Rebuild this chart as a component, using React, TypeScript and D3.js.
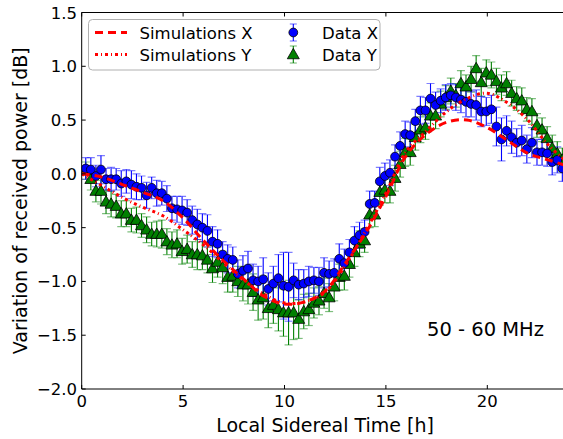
import React from "react";
import * as d3 from "d3";

const HOURS = [0.2,0.45,0.7,0.95,1.2,1.45,1.7,1.95,2.2,2.45,2.7,2.95,3.2,3.45,3.7,3.95,4.2,4.45,4.7,4.95,5.2,5.45,5.7,5.95,6.2,6.45,6.7,6.95,7.2,7.45,7.7,7.95,8.2,8.45,8.7,8.95,9.2,9.45,9.7,9.95,10.2,10.45,10.7,10.95,11.2,11.45,11.7,11.95,12.2,12.45,12.7,12.95,13.2,13.45,13.7,13.95,14.2,14.45,14.7,14.95,15.2,15.45,15.7,15.95,16.2,16.45,16.7,16.95,17.2,17.45,17.7,17.95,18.2,18.45,18.7,18.95,19.2,19.45,19.7,19.95,20.2,20.45,20.7,20.95,21.2,21.45,21.7,21.95,22.2,22.45,22.7,22.95,23.2,23.45,23.7];

const DATA_X = [0.05,0.04,-0.02,0.04,-0.05,-0.05,-0.05,-0.09,-0.07,-0.10,
-0.12,-0.13,-0.20,-0.13,-0.18,-0.18,-0.23,-0.32,-0.33,-0.34,
-0.36,-0.43,-0.47,-0.50,-0.53,-0.63,-0.65,-0.75,-0.79,-0.80,
-0.93,-0.90,-0.88,-0.99,-1.00,-0.98,-1.07,-1.02,-0.97,-1.04,
-1.05,-0.99,-1.03,-1.02,-1.00,-0.99,-1.00,-0.92,-0.93,-0.92,
-0.79,-0.83,-0.73,-0.62,-0.57,-0.54,-0.28,-0.27,-0.07,-0.02,
0.01,0.16,0.26,0.37,0.36,0.49,0.59,0.59,0.70,0.64,
0.68,0.71,0.73,0.71,0.69,0.67,0.65,0.64,0.58,0.58,
0.60,0.44,0.32,0.40,0.34,0.29,0.31,0.23,0.29,0.20,
0.20,0.19,0.11,0.13,0.05];

const ERR_X = [0.10,0.11,0.10,0.13,0.10,0.11,0.10,0.12,0.11,0.13,
0.12,0.11,0.12,0.10,0.12,0.11,0.12,0.11,0.12,0.13,
0.12,0.13,0.14,0.13,0.15,0.14,0.13,0.12,0.13,0.12,
0.13,0.14,0.16,0.15,0.14,0.20,0.15,0.16,0.22,0.31,
0.32,0.16,0.14,0.13,0.14,0.12,0.13,0.14,0.12,0.13,
0.14,0.13,0.12,0.13,0.12,0.11,0.12,0.11,0.13,0.12,
0.12,0.11,0.13,0.12,0.12,0.11,0.13,0.12,0.14,0.12,
0.11,0.12,0.11,0.12,0.12,0.14,0.12,0.14,0.14,0.13,
0.13,0.18,0.20,0.14,0.15,0.13,0.14,0.13,0.14,0.12,
0.12,0.12,0.12,0.12,0.12];

const DATA_Y = [0.03,-0.05,-0.16,-0.16,-0.26,-0.28,-0.30,-0.37,-0.37,-0.43,
-0.43,-0.48,-0.52,-0.56,-0.56,-0.56,-0.63,-0.66,-0.65,-0.72,
-0.70,-0.75,-0.75,-0.76,-0.80,-0.88,-0.82,-0.87,-0.96,-0.95,
-1.00,-1.03,-1.03,-1.10,-1.17,-1.15,-1.25,-1.22,-1.26,-1.29,
-1.29,-1.29,-1.35,-1.28,-1.26,-1.20,-1.18,-1.11,-1.15,-1.05,
-0.96,-0.95,-0.84,-0.73,-0.65,-0.62,-0.38,-0.38,-0.17,-0.15,
-0.16,-0.04,0.09,0.20,0.20,0.34,0.41,0.43,0.54,0.54,
0.65,0.71,0.77,0.73,0.84,0.81,0.88,0.98,0.85,0.94,
0.92,0.86,0.80,0.84,0.75,0.70,0.68,0.60,0.58,0.45,
0.41,0.33,0.24,0.19,0.13];

const ERR_Y = [0.08,0.10,0.10,0.12,0.11,0.12,0.11,0.12,0.12,0.11,
0.12,0.11,0.12,0.11,0.12,0.13,0.12,0.12,0.13,0.12,
0.13,0.12,0.14,0.13,0.12,0.13,0.14,0.15,0.14,0.15,
0.14,0.15,0.18,0.17,0.19,0.20,0.18,0.17,0.20,0.22,
0.30,0.25,0.18,0.16,0.15,0.14,0.13,0.14,0.13,0.13,
0.12,0.13,0.12,0.13,0.12,0.11,0.12,0.11,0.12,0.12,
0.11,0.12,0.12,0.13,0.12,0.12,0.12,0.11,0.12,0.12,
0.12,0.11,0.12,0.11,0.12,0.11,0.12,0.12,0.13,0.12,
0.12,0.12,0.12,0.11,0.12,0.11,0.12,0.11,0.12,0.11,
0.11,0.11,0.12,0.11,0.11];

const SIM_HOURS = [0,1,2,3,4,5,6,7,8,9,10,11,12,13,14,15,16,17,18,19,20,21,22,23,24];
const SIM_X = [0.0,-0.03,-0.10,-0.17,-0.25,-0.41,-0.62,-0.81,-0.98,-1.14,-1.21,-1.19,-1.09,-0.83,-0.55,-0.21,0.17,0.37,0.48,0.50,0.43,0.31,0.19,0.13,0.07];
const SIM_Y = [0.0,-0.11,-0.22,-0.31,-0.39,-0.52,-0.66,-0.83,-0.99,-1.12,-1.20,-1.19,-1.10,-0.85,-0.53,-0.18,0.21,0.40,0.58,0.70,0.75,0.66,0.50,0.27,0.10];

const X_TICKS = [0, 5, 10, 15, 20];
const Y_TICKS = [1.5, 1.0, 0.5, 0.0, -0.5, -1.0, -1.5, -2.0];

const W = 563, H = 439;
const FONT = "'DejaVu Sans', sans-serif";
const DASH_X = "8,5";
const DASH_Y = "3,3,1,3";

export default function App() {
  const x = d3.scaleLinear().domain([0, 24]).range([81.7, 81.7 + 24 * 20.28]);
  const y = d3.scaleLinear().domain([-2, 1.5]).range([389, 12.5]);
  const left = x(0), right = x(24), top = y(1.5), bottom = y(-2);

  const mkLine = (vals: number[]) =>
    d3.line<number>().x((_, i) => x(SIM_HOURS[i])).y((v) => y(v)).curve(d3.curveCatmullRom.alpha(0.5))(vals) as string;
  const pathX = mkLine(SIM_X);
  const pathY = mkLine(SIM_Y);

  const tri = d3.symbol().type(d3.symbolTriangle).size(62)() as string;

  const errBars = (vals: number[], errs: number[], color: string) =>
    vals.map((v, i) => {
      const cx = x(HOURS[i]);
      const y1 = y(v + errs[i]), y2 = y(v - errs[i]);
      return (
        <g key={i}>
          <line x1={cx} x2={cx} y1={y1} y2={y2} stroke={color} strokeWidth={1.1} />
          <line x1={cx - 4} x2={cx + 4} y1={y1} y2={y1} stroke={color} strokeWidth={1.2} strokeOpacity={0.5} />
          <line x1={cx - 4} x2={cx + 4} y1={y2} y2={y2} stroke={color} strokeWidth={1.2} strokeOpacity={0.5} />
        </g>
      );
    });

  return (
    <svg width={W} height={H} style={{ position: "absolute", left: 0, top: 0, background: "#fff" }} fontFamily={FONT}>
      <defs>
        <clipPath id="plot">
          <rect x={left} y={top} width={right - left} height={bottom - top} />
        </clipPath>
      </defs>
      <rect x={0} y={0} width={W} height={H} fill="#fff" />
      <g clipPath="url(#plot)">
        {errBars(DATA_Y, ERR_Y, "#008000")}
        {errBars(DATA_X, ERR_X, "#0000ff")}
        {DATA_Y.map((v, i) => (
          <path key={"t" + i} d={tri} transform={`translate(${x(HOURS[i])},${y(v) + 0.8})`} fill="#008000" stroke="#000" strokeWidth={0.8} />
        ))}
        {DATA_X.map((v, i) => (
          <circle key={"c" + i} cx={x(HOURS[i])} cy={y(v)} r={4.4} fill="#0000ff" stroke="#000" strokeWidth={0.8} />
        ))}
        <path d={pathX} fill="none" stroke="#ff0000" strokeWidth={3} strokeDasharray={DASH_X} />
        <path d={pathY} fill="none" stroke="#ff0000" strokeWidth={3} strokeDasharray={DASH_Y} />
      </g>
      <line x1={left} x2={left} y1={top} y2={bottom} stroke="#000" strokeWidth={1} />
      <line x1={left} x2={right} y1={top} y2={top} stroke="#000" strokeWidth={1} />
      <line x1={left} x2={right} y1={bottom} y2={bottom} stroke="#000" strokeWidth={1} />
      <line x1={right} x2={right} y1={top} y2={bottom} stroke="#000" strokeWidth={1} />
      {X_TICKS.map((t) => (
        <g key={"xt" + t}>
          <line x1={x(t)} x2={x(t)} y1={bottom} y2={bottom - 4} stroke="#000" />
          <line x1={x(t)} x2={x(t)} y1={top} y2={top + 4} stroke="#000" />
          <text x={x(t)} y={407} fontSize={16.5} textAnchor="middle" fill="#000">{t}</text>
        </g>
      ))}
      {Y_TICKS.map((t) => (
        <g key={"yt" + t}>
          <line x1={left} x2={left + 4} y1={y(t)} y2={y(t)} stroke="#000" />
          <text x={77} y={y(t) + 6} fontSize={16.5} textAnchor="end" fill="#000">{t < 0 ? "\u2212" + Math.abs(t).toFixed(1) : t.toFixed(1)}</text>
        </g>
      ))}
      <text x={(left + right) / 2} y={432} fontSize={19} textAnchor="middle" fill="#000">Local Sidereal Time [h]</text>
      <text transform={`translate(27,${(top + bottom) / 2}) rotate(-90)`} fontSize={19} textAnchor="middle" fill="#000">Variation of received power [dB]</text>
      <text x={427} y={335.5} fontSize={19.5} fill="#000">50 - 60 MHz</text>
      <g>
        <rect x={88.5} y={19.5} width={291.5} height={50.5} rx={4} fill="#fff" stroke="#b0b0b0" strokeWidth={1} />
        <line x1={95} x2={127} y1={32.5} y2={32.5} stroke="#ff0000" strokeWidth={3} strokeDasharray={DASH_X} />
        <text x={139.5} y={38.5} fontSize={16.5} fill="#000">Simulations X</text>
        <line x1={95} x2={127} y1={54.5} y2={54.5} stroke="#ff0000" strokeWidth={3} strokeDasharray={DASH_Y} />
        <text x={139.5} y={60.5} fontSize={16.5} fill="#000">Simulations Y</text>
        <line x1={293.3} x2={293.3} y1={24} y2={41} stroke="#0000ff" strokeWidth={1.1} />
        <line x1={289.8} x2={296.8} y1={24} y2={24} stroke="#0000ff" strokeOpacity={0.5} strokeWidth={1.2} />
        <line x1={289.8} x2={296.8} y1={41} y2={41} stroke="#0000ff" strokeOpacity={0.5} strokeWidth={1.2} />
        <circle cx={293.3} cy={32.5} r={4.4} fill="#0000ff" stroke="#000" strokeWidth={0.8} />
        <text x={322} y={38.5} fontSize={16.5} fill="#000">Data X</text>
        <line x1={293.3} x2={293.3} y1={46} y2={63} stroke="#008000" strokeWidth={1.1} />
        <line x1={289.8} x2={296.8} y1={46} y2={46} stroke="#008000" strokeOpacity={0.5} strokeWidth={1.2} />
        <line x1={289.8} x2={296.8} y1={63} y2={63} stroke="#008000" strokeOpacity={0.5} strokeWidth={1.2} />
        <path d={tri} transform="translate(293.3,55.3)" fill="#008000" stroke="#000" strokeWidth={0.8} />
        <text x={322} y={60.5} fontSize={16.5} fill="#000">Data Y</text>
      </g>
    </svg>
  );
}
